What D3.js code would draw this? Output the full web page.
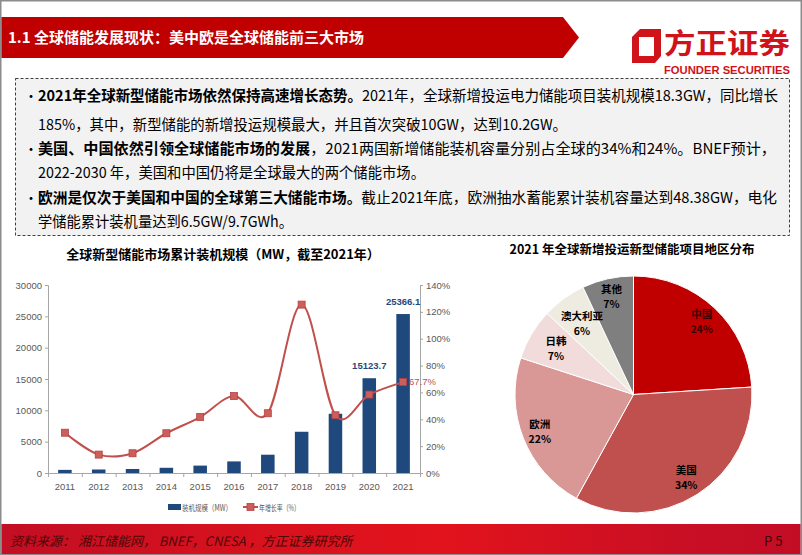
<!DOCTYPE html>
<html lang="zh">
<head>
<meta charset="UTF-8">
<title>全球储能发展现状</title>
<script src="https://d3js.org/d3.v7.min.js"></script>
<style>
  body { margin: 0; background: #fff; }
  svg { display: block; font-family: "Noto Sans CJK SC", "Noto Sans", sans-serif; }
  .tick-label { font-family: "Liberation Sans Narrow", "Liberation Sans", Arial, sans-serif; font-size: 9.5px; fill: #595959; }
</style>
</head>
<body>
<svg width="802" height="555"></svg>
<script>
// ---- data ----
const years = ["2011", "2012", "2013", "2014", "2015", "2016", "2017", "2018", "2019", "2020", "2021"];
const capacity = [500, 560, 640, 830, 1180, 1850, 2920, 6580, 9450, 15123.7, 25366.1];   // MW
const growth = [30, 13.7, 14.7, 29.6, 41.7, 57.3, 44.5, 125.4, 43, 58.4, 67.7];            // %
const leftTicks = [0, 5000, 10000, 15000, 20000, 25000, 30000];
const rightTicks = [0, 20, 40, 60, 80, 100, 120, 140];
const labelledBars = ["2020", "2021"];

const regions = ["中国", "美国", "欧洲", "日韩", "澳大利亚", "其他"];
const shares = [24, 34, 22, 7, 6, 7];
const regionColors = ["#C00000", "#C0504D", "#D99795", "#F2DCDB", "#EEECE1", "#7F7F7F"];

const bulletLines = [
  {bullet: true, bold: "2021年全球新型储能市场依然保持高速增长态势。", text: "2021年，全球新增投运电力储能项目装机规模18.3GW，同比增长", len: 740},
  {bullet: false, bold: "", text: "185%，其中，新型储能的新增投运规模最大，并且首次突破10GW，达到10.2GW。", len: 529},
  {bullet: true, bold: "美国、中国依然引领全球储能市场的发展", text: "，2021两国新增储能装机容量分别占全球的34%和24%。BNEF预计，", len: 738},
  {bullet: false, bold: "", text: "2022-2030 年，美国和中国仍将是全球最大的两个储能市场。", len: 387},
  {bullet: true, bold: "欧洲是仅次于美国和中国的全球第三大储能市场。", text: "截止2021年底，欧洲抽水蓄能累计装机容量达到48.38GW，电化", len: 739},
  {bullet: false, bold: "", text: "学储能累计装机量达到6.5GW/9.7GWh。", len: 255}
];
const lineY = [101, 130, 154, 178, 203, 227];

const svg = d3.select("svg");
const defs = svg.append("defs");

// ---- page frame ----
svg.append("rect").attr("x", 0.75).attr("y", 0.75).attr("width", 800.5).attr("height", 553.5)
  .attr("fill", "#fff").attr("stroke", "#8c8c8c").attr("stroke-width", 1.5);

// ---- header band ----
svg.append("path")
  .attr("d", "M1.5,17 L563,17 L579,37.5 L563,58 L1.5,58 Z")
  .attr("fill", "#C00000");
svg.append("text").attr("x", 8).attr("y", 43)
  .attr("fill", "#fff").attr("font-size", 15).attr("font-weight", "bold")
  .text("1.1 全球储能发展现状：美中欧是全球储能前三大市场");

// logo
svg.append("path")
  .attr("d", "M640,29 L661,29 L661,56 L655,63 L632,63 L632,37 Z M639,37 L639,56 L654,56 L654,37 Z")
  .attr("fill", "#D0121B").attr("fill-rule", "evenodd");
svg.append("text").attr("x", 664).attr("y", 54)
  .attr("fill", "#D0121B").attr("font-size", 28).attr("font-weight", "bold")
  .attr("textLength", 126).attr("lengthAdjust", "spacingAndGlyphs")
  .text("方正证券");
svg.append("text").attr("x", 664).attr("y", 74)
  .attr("fill", "#D0121B").attr("font-size", 10).attr("font-weight", "bold")
  .attr("font-family", "Liberation Sans Narrow, Liberation Sans, Arial")
  .attr("textLength", 126).attr("lengthAdjust", "spacingAndGlyphs")
  .text("FOUNDER SECURITIES");

// ---- text box ----
svg.append("rect").attr("x", 15.5).attr("y", 78.5).attr("width", 774).attr("height", 157)
  .attr("fill", "#F2F2F2").attr("stroke", "#404040").attr("stroke-width", 1)
  .attr("stroke-dasharray", "3,2");

bulletLines.forEach((d, i) => {
  if (d.bullet) {
    svg.append("text").attr("x", 24).attr("y", lineY[i]).attr("font-size", 14)
      .attr("fill", "#000").text("•");
  }
  const t = svg.append("text").attr("x", 38).attr("y", lineY[i])
    .attr("font-size", 15).attr("fill", "#000")
    .attr("textLength", d.len).attr("lengthAdjust", "spacingAndGlyphs");
  if (d.bold) t.append("tspan").attr("font-weight", "bold").text(d.bold);
  t.append("tspan").text(d.text);
});

// ---- left chart ----
svg.append("text").attr("x", 223).attr("y", 259).attr("text-anchor", "middle")
  .attr("font-size", 13).attr("font-weight", "bold").attr("fill", "#000")
  .text("全球新型储能市场累计装机规模（MW，截至2021年）");

const x = d3.scaleBand().domain(years).range([48, 420]).paddingInner(0.6).paddingOuter(0.3);
const yL = d3.scaleLinear().domain([0, 30000]).range([473, 285]);
const yR = d3.scaleLinear().domain([0, 140]).range([473, 285]);
const cx = d => x(d) + x.bandwidth() / 2;

// axes
const axisColor = "#a6a6a6";
const gl = svg.append("g").attr("transform", "translate(48,0)")
  .call(d3.axisLeft(yL).tickValues(leftTicks).tickSize(3).tickFormat(d3.format("d")));
const gr = svg.append("g").attr("transform", "translate(420,0)")
  .call(d3.axisRight(yR).tickValues(rightTicks).tickSize(3).tickFormat(d => d + "%"));
const xb = d3.scaleLinear().domain([0, years.length]).range([48, 420]);
const gx = svg.append("g").attr("transform", "translate(0,473)")
  .call(d3.axisBottom(xb).ticks(years.length).tickSize(4).tickFormat(""));
[gl, gr, gx].forEach(g => {
  g.select(".domain").attr("stroke", axisColor);
  g.selectAll(".tick line").attr("stroke", axisColor);
  g.selectAll(".tick text").attr("class", "tick-label").attr("fill", "#595959");
});
gl.selectAll(".tick text").attr("x", -6);
gr.selectAll(".tick text").attr("x", 6);
// year labels
svg.append("g").selectAll("text").data(years).join("text")
  .attr("class", "tick-label")
  .attr("x", d => cx(d)).attr("y", 490).attr("text-anchor", "middle")
  .text(d => d);

// bars
const barColor = "#1F497D";
svg.append("g").selectAll("rect").data(years).join("rect")
  .attr("x", d => x(d)).attr("width", x.bandwidth())
  .attr("y", (d, i) => yL(capacity[i]))
  .attr("height", (d, i) => yL(0) - yL(capacity[i]))
  .attr("fill", barColor);

// line
const lineColor = "#C0504D";
const pts = years.map((d, i) => [cx(d), yR(growth[i])]);
svg.append("path").datum(pts)
  .attr("d", d3.line().curve(d3.curveCardinal.tension(0)))
  .attr("fill", "none").attr("stroke", lineColor).attr("stroke-width", 2);
svg.append("g").selectAll("rect").data(pts).join("rect")
  .attr("x", d => d[0] - 3.5).attr("y", d => d[1] - 3.5)
  .attr("width", 7).attr("height", 7)
  .attr("fill", "#CC5F5B").attr("stroke", "#B7403D").attr("stroke-width", 0.8);

// data labels
svg.append("g").selectAll("text").data(labelledBars).join("text")
  .attr("class", "tick-label")
  .attr("x", d => cx(d)).attr("y", d => yL(capacity[years.indexOf(d)]) - 9)
  .attr("text-anchor", "middle").style("fill", barColor)
  .attr("font-weight", "bold")
  .text(d => capacity[years.indexOf(d)].toFixed(1));
svg.append("text").attr("class", "tick-label")
  .attr("x", cx("2021") + 6).attr("y", yR(growth[10]) + 3)
  .style("fill", lineColor)
  .text(growth[10].toFixed(1) + "%");

// legend
const lg = svg.append("g").attr("class", "legend");
lg.append("rect").attr("x", 168).attr("y", 504).attr("width", 13).attr("height", 6).attr("fill", barColor);
lg.append("text").attr("x", 182).attr("y", 510.5).attr("font-size", 8.5).attr("fill", "#595959")
  .attr("textLength", 50).attr("lengthAdjust", "spacingAndGlyphs").text("装机规模（MW）");
lg.append("line").attr("x1", 243).attr("x2", 258).attr("y1", 507).attr("y2", 507)
  .attr("stroke", lineColor).attr("stroke-width", 2);
lg.append("rect").attr("x", 247).attr("y", 503.5).attr("width", 7).attr("height", 7)
  .attr("fill", "#CC5F5B").attr("stroke", "#B7403D").attr("stroke-width", 0.8);
lg.append("text").attr("x", 259).attr("y", 510.5).attr("font-size", 8.5).attr("fill", "#595959")
  .attr("textLength", 41).attr("lengthAdjust", "spacingAndGlyphs").text("年增长率（%）");

// ---- pie ----
svg.append("text").attr("x", 632).attr("y", 254).attr("text-anchor", "middle")
  .attr("font-size", 12.5).attr("font-weight", "bold").attr("fill", "#000")
  .text("2021 年全球新增投运新型储能项目地区分布");

const R = 118.5;
const labelR = [0.84, 0.83, 0.85, 0.76, 0.74, 0.85];   // label distance as share of radius
const pie = d3.pie().sort(null).value(d => d)(shares);
const arc = d3.arc().innerRadius(0).outerRadius(R);
const pg = svg.append("g").attr("transform", "translate(633.5,394.5)");
pg.selectAll("path").data(pie).join("path")
  .attr("d", arc)
  .attr("fill", (d, i) => regionColors[i])
  .attr("stroke", "#fff").attr("stroke-width", 1);
const pl = pg.selectAll("text.lbl").data(pie).join("text").attr("class", "lbl")
  .attr("transform", (d, i) => {
    const r = R * labelR[i];
    return `translate(${d3.arc().innerRadius(r).outerRadius(r).centroid(d)})`;
  })
  .attr("text-anchor", "middle")
  .attr("font-size", 10.5).attr("font-weight", "bold")
  .attr("fill", (d, i) => i === 0 ? "#3a0000" : "#000");
pl.append("tspan").attr("x", 0).attr("y", -3.5).text((d, i) => regions[i]);
pl.append("tspan").attr("x", 0).attr("y", 11.5).text(d => d.data + "%");

// ---- footer ----
const grad = defs.append("linearGradient").attr("id", "foot");
[["0%", "#C30E24"], ["25%", "#D4111F"], ["55%", "#E2131C"], ["85%", "#C90F24"], ["100%", "#C20D25"]]
  .forEach(s => grad.append("stop").attr("offset", s[0]).attr("stop-color", s[1]));
svg.append("rect").attr("x", 1.5).attr("y", 524).attr("width", 799).attr("height", 30).attr("fill", "url(#foot)");
svg.append("text").attr("x", 10).attr("y", 546)
  .attr("font-size", 13).attr("font-style", "italic").attr("fill", "#4d0808")
  .text("资料来源：  湘江储能网，  BNEF，CNESA ，方正证券研究所");
svg.append("text").attr("x", 764).attr("y", 546)
  .attr("font-size", 13).attr("fill", "#3d0808")
  .text("P 5");
</script>
</body>
</html>
